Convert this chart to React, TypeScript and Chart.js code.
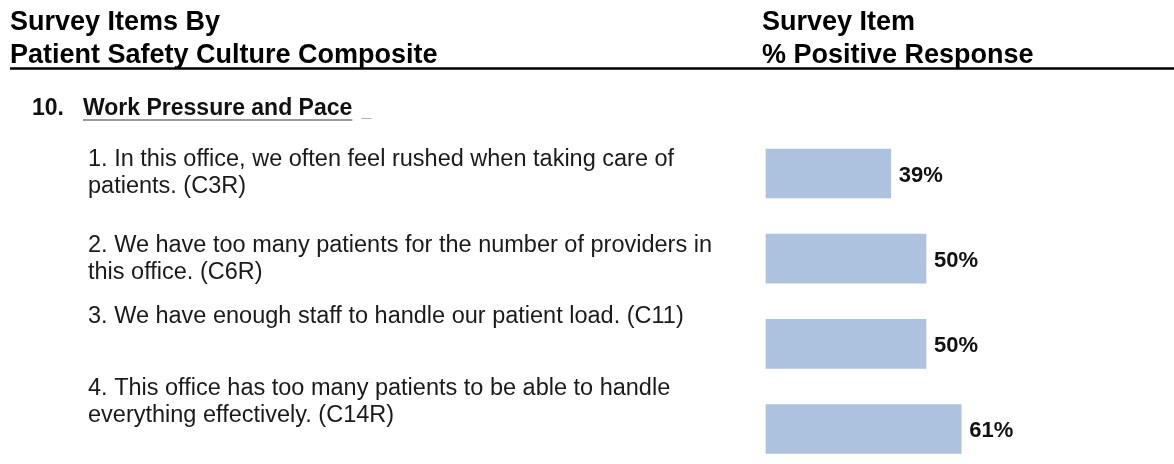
import React, { useEffect, useRef } from 'react';
import { Chart, registerables } from 'chart.js';

Chart.register(...registerables);

const FONT = "'Liberation Sans', Arial, Helvetica, sans-serif";

const headerLeft = ['Survey Items By', 'Patient Safety Culture Composite'];
const headerRight = ['Survey Item', '% Positive Response'];
const compositeNumber = '10.';
const compositeTitle = 'Work Pressure and Pace';

const itemLabels: string[][] = [
  ['1. In this office, we often feel rushed when taking care of', 'patients. (C3R)'],
  ['2. We have too many patients for the number of providers in', 'this office. (C6R)'],
  ['3. We have enough staff to handle our patient load. (C11)'],
  ['4. This office has too many patients to be able to handle', 'everything effectively. (C14R)'],
];

const positivePct: number[] = [39, 50, 50, 61];

// Layout only: the source document sets the last two item texts higher than their bars.
const labelBlankLinesBelow = [0, 0, 2, 2];
const tickLabels = itemLabels.map((lines, i) => [
  ...lines,
  ...Array(labelBlankLinesBelow[i]).fill(''),
]);

const decorPlugin = {
  id: 'decor',
  afterDraw(chart: any) {
    const ctx: CanvasRenderingContext2D = chart.ctx;
    ctx.save();
    ctx.textAlign = 'left';
    ctx.textBaseline = 'alphabetic';
    ctx.fillStyle = '#000';

    // Column headers
    ctx.font = `bold 27px ${FONT}`;
    ctx.fillText(headerLeft[0], 10, 30);
    ctx.fillText(headerLeft[1], 10, 63);
    ctx.fillText(headerRight[0], 762, 30);
    ctx.fillText(headerRight[1], 762, 63);

    ctx.strokeStyle = '#000';
    ctx.lineWidth = 2.5;
    ctx.beginPath();
    ctx.moveTo(10, 68.5);
    ctx.lineTo(chart.width, 68.5);
    ctx.stroke();

    // Composite title
    ctx.font = `bold 23px ${FONT}`;
    ctx.fillStyle = '#111';
    ctx.fillText(compositeNumber, 32, 115);
    ctx.fillText(compositeTitle, 83, 115);
    const tw = ctx.measureText(compositeTitle).width;
    ctx.strokeStyle = '#7a7a7a';
    ctx.lineWidth = 1.5;
    ctx.beginPath();
    ctx.moveTo(83, 120);
    ctx.lineTo(83 + tw, 120);
    ctx.stroke();
    ctx.strokeStyle = '#b0b0b0';
    ctx.lineWidth = 1;
    ctx.beginPath();
    ctx.moveTo(83 + tw + 9, 118.5);
    ctx.lineTo(83 + tw + 19, 118.5);
    ctx.stroke();

    // Value labels
    ctx.font = `bold 22px ${FONT}`;
    ctx.fillStyle = '#111';
    ctx.textBaseline = 'middle';
    const meta = chart.getDatasetMeta(0);
    meta.data.forEach((bar: any, i: number) => {
      ctx.fillText(`${positivePct[i]}%`, bar.x + 8, bar.y + 2);
    });
    ctx.restore();
  },
};

export default function App() {
  const canvasRef = useRef<HTMLCanvasElement | null>(null);

  useEffect(() => {
    if (!canvasRef.current) return;
    const chart = new Chart(canvasRef.current, {
      type: 'bar',
      data: {
        labels: tickLabels,
        datasets: [
          {
            data: positivePct,
            backgroundColor: '#adc2df',
            borderWidth: 0,
            barThickness: 49,
            clip: false as any,
          },
        ],
      },
      options: {
        indexAxis: 'y',
        animation: false,
        responsive: true,
        maintainAspectRatio: false,
        layout: { padding: { left: 88, right: 88, top: 173.5, bottom: 35 } },
        plugins: {
          legend: { display: false },
          tooltip: { enabled: false },
        },
        scales: {
          x: { display: false, min: 0, max: 100 },
          y: {
            offset: false,
            grid: { display: false, drawTicks: false },
            border: { display: false },
            afterFit: (scale: any) => {
              scale.width = 678;
            },
            ticks: {
              autoSkip: false,
              crossAlign: 'far',
              padding: 0,
              color: '#1a1a1a',
              font: { family: FONT, size: 23.5, lineHeight: 1.15 },
            },
          },
        },
      },
      plugins: [decorPlugin],
    } as any);
    return () => chart.destroy();
  }, []);

  return (
    <div style={{ position: 'fixed', left: 0, top: 0, width: 1174, height: 464, background: '#fff' }}>
      <canvas ref={canvasRef} />
    </div>
  );
}
